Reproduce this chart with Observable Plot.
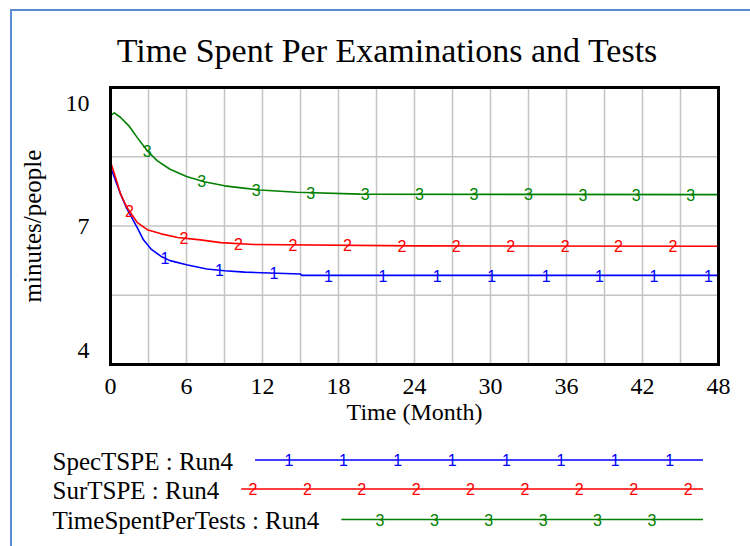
<!DOCTYPE html>
<html>
<head>
<meta charset="utf-8">
<script src="https://cdn.jsdelivr.net/npm/d3@7"></script>
<script src="https://cdn.jsdelivr.net/npm/@observablehq/plot@0.6"></script>
<style>
  html, body { margin: 0; padding: 0; background: #fff; }
  body { width: 750px; height: 546px; position: relative; overflow: hidden; font-family: "Liberation Serif", "Times New Roman", serif; }
  #border { position: absolute; left: 10px; top: 9px; width: 800px; height: 600px; border-left: 2px solid #5b8bd0; border-top: 2px solid #5b8bd0; }
  #title { position: absolute; left: 0; width: 774px; top: 31px; text-align: center; font-size: 34px; line-height: 40px; color: #000; white-space: nowrap; }
  #chart { position: absolute; left: 0; top: 0; }
  #legend { position: absolute; left: 0; top: 440px; }
</style>
</head>
<body>
<div id="border"></div>
<div id="chart"></div>
<div id="title">Time Spent Per Examinations and Tests</div>
<svg id="legend" width="750" height="106"></svg>
<script>
// ---- data ----
const seriesNames = ["SpecTSPE : Run4", "SurTSPE : Run4", "TimeSpentPerTests : Run4"];
const seriesMarks = ["1", "2", "3"];
const seriesColors = ["#0000ff", "#ff0000", "#008000"];

const specTime  = [0, 0.4, 0.8, 1.3, 2.1, 2.6, 3.2, 4.0, 4.7, 6.0, 7.6, 9.0, 10.6, 15.0, 15.1, 20, 48];
const specValue = [8.28, 7.98, 7.69, 7.37, 6.97, 6.70, 6.50, 6.34, 6.25, 6.16, 6.07, 6.03, 6.00, 5.96, 5.93, 5.93, 5.93];

const surTime  = [0, 0.4, 0.8, 1.3, 2.1, 2.9, 4.0, 5.3, 7.1, 8.7, 11.3, 24, 48];
const surValue = [8.39, 8.05, 7.69, 7.40, 7.08, 6.92, 6.83, 6.75, 6.70, 6.64, 6.60, 6.57, 6.56];

const testTime  = [0, 0.3, 0.8, 1.45, 2.1, 2.9, 3.7, 4.7, 6.0, 7.4, 9.0, 10.5, 11.8, 14.7, 19.7, 48];
const testValue = [9.39, 9.45, 9.35, 9.17, 8.92, 8.63, 8.41, 8.23, 8.07, 7.96, 7.87, 7.82, 7.78, 7.73, 7.69, 7.68];

// marker positions (months) along each curve
const specMarkTimes = [4.3, 8.6, 12.9, 17.2, 21.5, 25.8, 30.1, 34.4, 38.6, 42.9, 47.2];
const surMarkTimes  = [1.5, 5.8, 10.1, 14.4, 18.7, 23.0, 27.3, 31.6, 35.9, 40.1, 44.4];
const testMarkTimes = [2.9, 7.2, 11.5, 15.8, 20.1, 24.4, 28.7, 33.0, 37.3, 41.5, 45.8];
const markerStep = 4.294; // months between repeated series markers

const xTicks = [0, 6, 12, 18, 24, 30, 36, 42, 48];
const xGrid = [3, 6, 9, 12, 15, 18, 21, 24, 27, 30, 33, 36, 39, 42, 45];
const yTickLabels = [10, 7, 4];
const yGrid = [5.5, 7, 8.5];
const xLabel = "Time (Month)";
const yLabel = "minutes/people";

// ---- build tables ----
const times = [specTime, surTime, testTime];
const values = [specValue, surValue, testValue];
const markTimes = [specMarkTimes, surMarkTimes, testMarkTimes];

const lineData = [];
times.forEach((ts, s) => ts.forEach((t, i) => lineData.push({s, t, v: values[s][i]})));

function interp(ts, vs, t) {
  for (let i = 1; i < ts.length; i++) {
    if (t <= ts[i]) {
      const f = (t - ts[i - 1]) / (ts[i] - ts[i - 1]);
      return vs[i - 1] + f * (vs[i] - vs[i - 1]);
    }
  }
  return vs[vs.length - 1];
}
const markData = [];
markTimes.forEach((ms, s) => ms.forEach(t => markData.push({s, t, v: interp(times[s], values[s], t), m: seriesMarks[s]})));

const serif = "'Liberation Serif', 'Times New Roman', serif";
const sans = "'Liberation Sans', Arial, sans-serif";
const yOffsets = [16, 0, -14];

const plot = Plot.plot({
  width: 750,
  height: 430,
  marginTop: 87,
  marginLeft: 110,
  marginRight: 32,
  marginBottom: 66,
  x: {domain: [0, 48], label: null},
  y: {domain: [4, 10], axis: null},
  style: {background: "transparent", fontFamily: serif, fontSize: "24px", color: "#000"},
  marks: [
    Plot.ruleX(xGrid, {x: d => d, stroke: "#c4c4c4", strokeWidth: 1.5}),
    Plot.ruleY(yGrid, {y: d => d, stroke: "#c4c4c4", strokeWidth: 1.5}),
    ...[0, 1, 2].map(s => Plot.line(lineData.filter(d => d.s === s), {x: "t", y: "v", stroke: seriesColors[s], strokeWidth: 1.6})),
    ...[0, 1, 2].map(s => Plot.text(markData.filter(d => d.s === s), {x: "t", y: "v", text: "m", fill: seriesColors[s], fontFamily: sans, fontSize: 16, dy: 1})),
    Plot.frame({stroke: "#000", strokeWidth: 3}),
    Plot.axisX({ticks: xTicks, tickSize: 0, tickPadding: 12, fontSize: 24, fontFamily: serif, label: null}),
    ...yTickLabels.map((v, i) => Plot.text([v], {y: d => d, text: d => String(d), frameAnchor: "left", textAnchor: "end", dx: -21, dy: yOffsets[i], fontSize: 24, fontFamily: serif})),
    Plot.text([xLabel], {frameAnchor: "bottom", lineAnchor: "middle", textAnchor: "middle", dy: 48, fontSize: 24, fontFamily: serif}),
    Plot.text([yLabel], {frameAnchor: "left", textAnchor: "middle", lineAnchor: "middle", dx: -78, rotate: -90, fontSize: 25, fontFamily: serif})
  ]
});
document.getElementById("chart").appendChild(plot);

// ---- legend ----
const xs = plot.scale("x");
const pxStep = xs.apply(markerStep) - xs.apply(0);
const pxPhase = [17, 35.4, 53.6];
const legend = d3.select("#legend");
const baselines = [29.5, 58.5, 89];
const lineEnd = 703;
seriesNames.forEach((name, s) => {
  const t = legend.append("text")
    .attr("x", 52.5).attr("y", baselines[s])
    .attr("font-family", serif).attr("font-size", 25).attr("fill", "#000")
    .text(name);
  const w = t.node().getComputedTextLength();
  const x0 = 52.5 + w + 22;
  const ly = baselines[s] - 9.5;
  legend.append("line").attr("x1", x0).attr("x2", lineEnd).attr("y1", ly).attr("y2", ly)
    .attr("stroke", seriesColors[s]).attr("stroke-width", 1.6);
  for (let x = pxPhase[s]; x < lineEnd; x += pxStep) {
    if (x < x0 + 8) continue;
    legend.append("text").attr("x", x).attr("y", ly).attr("dy", "0.38em")
      .attr("text-anchor", "middle").attr("font-family", sans).attr("font-size", 16)
      .attr("fill", seriesColors[s]).text(seriesMarks[s]);
  }
});
</script>
</body>
</html>
